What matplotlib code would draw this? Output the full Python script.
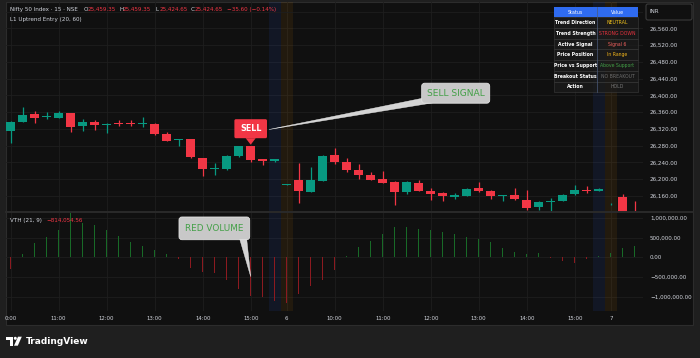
import numpy as np
import matplotlib
matplotlib.use("Agg")
import matplotlib.pyplot as plt
from matplotlib.patches import Rectangle, FancyBboxPatch, Polygon, Circle

# 15m bars, index 0 = 10:00 of the 5th
opens  = [26316, 26337, 26355, 26348, 26346, 26358, 26326, 26337, 26329, 26334,
          26333, 26332, 26332, 26307, 26293, 26295, 26251, 26224, 26224, 26255,
          26279, 26248, 26243, 26187, 26198, 26170, 26197, 26258, 26241, 26222,
          26210, 26201, 26194, 26170, 26192, 26173, 26167, 26158, 26161, 26178,
          26173, 26160, 26162, 26151, 26133, 26146, 26148, 26164, 26174, 26173,
          26140, 26158, 26118]
highs  = [26338, 26373, 26363, 26360, 26363, 26359, 26343, 26341, 26333, 26341,
          26341, 26348, 26333, 26312, 26296, 26296, 26251, 26238, 26257, 26280,
          26280, 26249, 26249, 26189, 26238, 26229, 26258, 26274, 26251, 26236,
          26218, 26220, 26195, 26197, 26198, 26178, 26170, 26168, 26178, 26194,
          26174, 26163, 26178, 26174, 26147, 26155, 26166, 26186, 26185, 26178,
          26143, 26166, 26149]
lows   = [26286, 26336, 26333, 26344, 26345, 26313, 26316, 26317, 26311, 26327,
          26327, 26325, 26306, 26291, 26279, 26251, 26208, 26210, 26222, 26252,
          26242, 26233, 26242, 26186, 26143, 26169, 26196, 26236, 26217, 26200,
          26198, 26191, 26139, 26165, 26171, 26151, 26149, 26152, 26160, 26170,
          26152, 26148, 26151, 26127, 26127, 26124, 26147, 26163, 26168, 26172,
          26139, 26100, 26105]
closes = [26337, 26353, 26347, 26350, 26359, 26325, 26337, 26330, 26332, 26332,
          26331, 26333, 26307, 26292, 26296, 26252, 26224, 26227, 26256, 26279,
          26246, 26243, 26248, 26189, 26173, 26198, 26255, 26242, 26222, 26209,
          26199, 26192, 26170, 26193, 26172, 26165, 26160, 26162, 26177, 26173,
          26160, 26162, 26152, 26131, 26146, 26149, 26162, 26174, 26173, 26177,
          26142, 26110, 26110]
# VTH histogram
vth = [-303000, 76000, 353000, 505000, 689000, 1110000, 874000, 816000, 689000, 538000,
       394000, 293000, 184000, 83000, -50000, -262000, -364000, -389000, -573000, -793000,
       -977000, -1010000, -1100000, -1160000, -927000, -725000, -573000, -321000, 33000, 268000,
       419000, 580000, 757000, 757000, 715000, 689000, 639000, 588000, 521000, 454000,
       379000, 243000, 141000, 83000, 116000, -25000, -101000, -143000, -50000, 25000,
       116000, 227000, 285000]

tick_pos = [0, 4, 8, 12, 16, 20, 23, 27, 31, 35, 39, 43, 47, 50]
tick_lbl = ["0:00", "11:00", "12:00", "13:00", "14:00", "15:00", "6",
            "10:00", "11:00", "12:00", "13:00", "14:00", "15:00", "7"]
price_ticks = list(range(26160, 26561, 40))
vol_ticks = [-1000000, -500000, 0, 500000, 1000000]
vol_lbl = ["\u22121,000,000.00", "\u2212500,000.00", "0.00", "500,000.00", "1,000,000.00"]
close_bars = [22, 49]
open_bars = [23, 50]
sell_bar = 20

table_keys = ["Trend Direction", "Trend Strength", "Active Signal", "Price Position",
              "Price vs Support", "Breakout Status", "Action"]
table_vals = ["NEUTRAL", "STRONG DOWN", "Signal 6", "In Range",
              "Above Support", "NO BREAKOUT", "HOLD"]
table_cols = ["#f2c21b", "#e8333f", "#f0605e", "#f2b51b", "#43a047", "#6f6f6f", "#7a7a7a"]

UP = "#089981"
DN = "#f23645"
BG = "#101010"
GRID = "#1e1e1e"
TXT = "#d1d4dc"
W, H = 700, 358

plt.rcParams['font.family'] = ['DejaVu Sans']
fig = plt.figure(figsize=(7, 3.58), dpi=100, facecolor="#1f1f1f")
fig.patches.append(Rectangle((6 / W, 1 - 325 / H), 687 / W, 323 / H, transform=fig.transFigure,
                             facecolor=BG, edgecolor="#2c2c2c", lw=0.8, zorder=-1))

ax = fig.add_axes([6 / W, 1 - 212 / H, 637 / W, 210 / H])
vax = fig.add_axes([6 / W, 1 - 310.7 / H, 637 / W, 98.7 / H], sharex=ax)
for a in (ax, vax):
    a.set_facecolor("none")
    for s in a.spines.values():
        s.set_visible(False)
    a.grid(True, color=GRID, lw=0.6)
    a.set_axisbelow(True)
    a.yaxis.tick_right()
    a.tick_params(length=0, colors=TXT, labelsize=4.1, pad=5)
    for b in close_bars:
        a.axvspan(b - 0.5, b + 0.5, color=(41 / 255, 98 / 255, 1.0), alpha=0.09, lw=0)
    for b in open_bars:
        a.axvspan(b - 0.5, b + 0.5, color=(1.0, 152 / 255, 0), alpha=0.08, lw=0)

x = np.arange(len(opens))
o, h, l, c = map(np.array, (opens, highs, lows, closes))
cols = [UP if cc >= oo else DN for oo, cc in zip(o, c)]
ax.vlines(x, l, h, colors=cols, lw=0.9)
body = np.maximum(np.abs(c - o), 2)
ax.bar(x, body, bottom=np.minimum(o, c), width=0.72, color=cols, lw=0)
ax.set_xlim(-0.39, 52.69)
ax.set_ylim(26121.9, 26622.7)
ax.set_yticks(price_ticks)
ax.set_yticklabels([f"{p:,.2f}" for p in price_ticks])
ax.axhline(26600, color=GRID, lw=0.6)
ax.tick_params(axis="x", labelbottom=False)

vcols = ["#186a27" if v >= 0 else "#8c1a20" for v in vth]
vax.bar(x, vth, width=0.13, color=vcols, lw=0)
vax.set_ylim(-1348000, 1144000)
vax.set_yticks(vol_ticks)
vax.set_yticklabels(vol_lbl)
vax.set_xticks(tick_pos)
vax.set_xticklabels(tick_lbl)
vax.tick_params(axis="x", labelsize=3.9, pad=4)
for t in ax.get_yticklabels() + vax.get_yticklabels():
    t.set_horizontalalignment("left")

# overlay in pixel coordinates
ov = fig.add_axes([0, 0, 1, 1], zorder=5)
ov.set_xlim(0, W)
ov.set_ylim(H, 0)
ov.axis("off")
ov.set_facecolor("none")


def px(a, xv, yv):
    dx, dy = a.transData.transform((xv, yv))
    return dx, H - dy


ov.plot([6, 693], [212, 212], color="#2a2a2a", lw=1.4)

# legend lines
fs = 4.1
ov.text(10, 9.7, "Nifty 50 Index \u00b7 15 \u00b7 NSE", color=TXT, fontsize=fs, va="center")
for lx, lab, vx, val in [(83.3, "O", 87.3, "25,459.35"), (119, "H", 123, "25,459.35"),
                         (155.7, "L", 159.3, "25,424.65"), (190.3, "C", 194.3, "25,424.65")]:
    ov.text(lx, 9.7, lab, color=TXT, fontsize=fs, va="center")
    ov.text(vx, 9.7, val, color=DN, fontsize=fs, va="center")
ov.text(226.7, 9.7, "\u221235.60 (\u22120.14%)", color=DN, fontsize=fs, va="center")
ov.text(10, 19.3, "L1 Uptrend Entry (20, 60)", color=TXT, fontsize=fs, va="center")
ov.text(10, 220.3, "VTH (21, 9)", color=TXT, fontsize=fs, va="center")
ov.text(46, 220.3, "\u2212814,054.56", color=DN, fontsize=fs, va="center")

# INR box
ov.add_patch(FancyBboxPatch((646, 4), 46, 16, boxstyle="round,pad=0,rounding_size=2",
                            facecolor=BG, edgecolor="#3a3a3a", lw=0.8))
ov.text(650, 11.5, "INR", color=TXT, fontsize=fs, va="center")

# status table
tx0, tx1, tx2 = 554, 597, 638
ov.add_patch(Rectangle((tx0, 7), tx2 - tx0, 10.3, facecolor="#2f6bf0", lw=0))
ov.text((tx0 + tx1) / 2, 12.2, "Status", color="white", fontsize=3.4, ha="center", va="center")
ov.text((tx1 + tx2) / 2, 12.2, "Value", color="white", fontsize=3.4, ha="center", va="center")
rh = 10.7
for k, (key, val, vc) in enumerate(zip(table_keys, table_vals, table_cols)):
    y0 = 17.3 + k * rh
    ov.add_patch(Rectangle((tx0, y0), tx2 - tx0, rh, facecolor="#1b1b1b", alpha=0.82,
                           edgecolor="#3c3c3c", lw=0.5))
    ov.text((tx0 + tx1) / 2, y0 + rh / 2, key, color="white", fontsize=3.3, weight="bold",
            ha="center", va="center")
    ov.text((tx1 + tx2) / 2, y0 + rh / 2, val, color=vc, fontsize=3.3, ha="center", va="center")
ov.plot([tx1, tx1], [7, 17.3 + 7 * rh], color="#4a5a7a", lw=0.5)

# SELL label on the signal bar
sx, sy = px(ax, sell_bar, highs[sell_bar])
ov.add_patch(Polygon([(sx - 5, sy - 7.5), (sx + 5, sy - 7.5), (sx, sy - 1)], closed=True,
                     facecolor=DN, lw=0))
ov.add_patch(FancyBboxPatch((sx - 16.3, sy - 26.5), 32.6, 19, boxstyle="round,pad=0,rounding_size=1.5",
                            facecolor=DN, lw=0))
ov.text(sx, sy - 17, "SELL", color="white", fontsize=5.8, weight="bold", ha="center", va="center")

# SELL SIGNAL callout
bx, by = sx + 171, sy - 62.5
ov.add_patch(Polygon([(bx + 1, by + 15), (bx + 12, by + 19.5), (sx + 18.3, sy - 16.2)], closed=True,
                     facecolor="#d4d4d4", edgecolor="#eeeeee", lw=0.3))
ov.add_patch(FancyBboxPatch((bx, by), 68, 20, boxstyle="round,pad=0,rounding_size=3",
                            facecolor="#c8c8c8", edgecolor="#e2e2e2", lw=0.6))
ov.text(bx + 34, by + 10.3, "SELL SIGNAL", color="#43a047", fontsize=6.6, ha="center", va="center")

# RED VOLUME callout
vx_, vy_ = px(vax, sell_bar, vth[sell_bar] / 2)
rbx, rby = vx_ - 71.7, 217
ov.add_patch(Polygon([(vx_ - 11, rby + 22), (vx_ - 4, rby + 22), (vx_, vy_)], closed=True,
                     facecolor="#d4d4d4", edgecolor="#eeeeee", lw=0.3))
ov.add_patch(FancyBboxPatch((rbx, rby), 70.7, 22.7, boxstyle="round,pad=0,rounding_size=3",
                            facecolor="#c8c8c8", edgecolor="#e2e2e2", lw=0.6))
ov.text(rbx + 35.3, rby + 11.6, "RED VOLUME", color="#43a047", fontsize=6.4, ha="center", va="center")

# TradingView logo
ov.add_patch(Rectangle((6, 336.7), 7.3, 3, facecolor="white", lw=0))
ov.add_patch(Rectangle((9.7, 336.7), 3.6, 9, facecolor="white", lw=0))
ov.add_patch(Circle((15.3, 338.3), 1.5, facecolor="white", lw=0))
ov.add_patch(Polygon([(18, 336.7), (21.8, 336.7), (17.8, 345.7), (14, 345.7)], closed=True,
                     facecolor="white", lw=0))
ov.text(26, 341.3, "TradingView", color="white", fontsize=6.5, weight="bold", va="center")

fig.savefig("out.png", dpi=100, facecolor=fig.get_facecolor())
